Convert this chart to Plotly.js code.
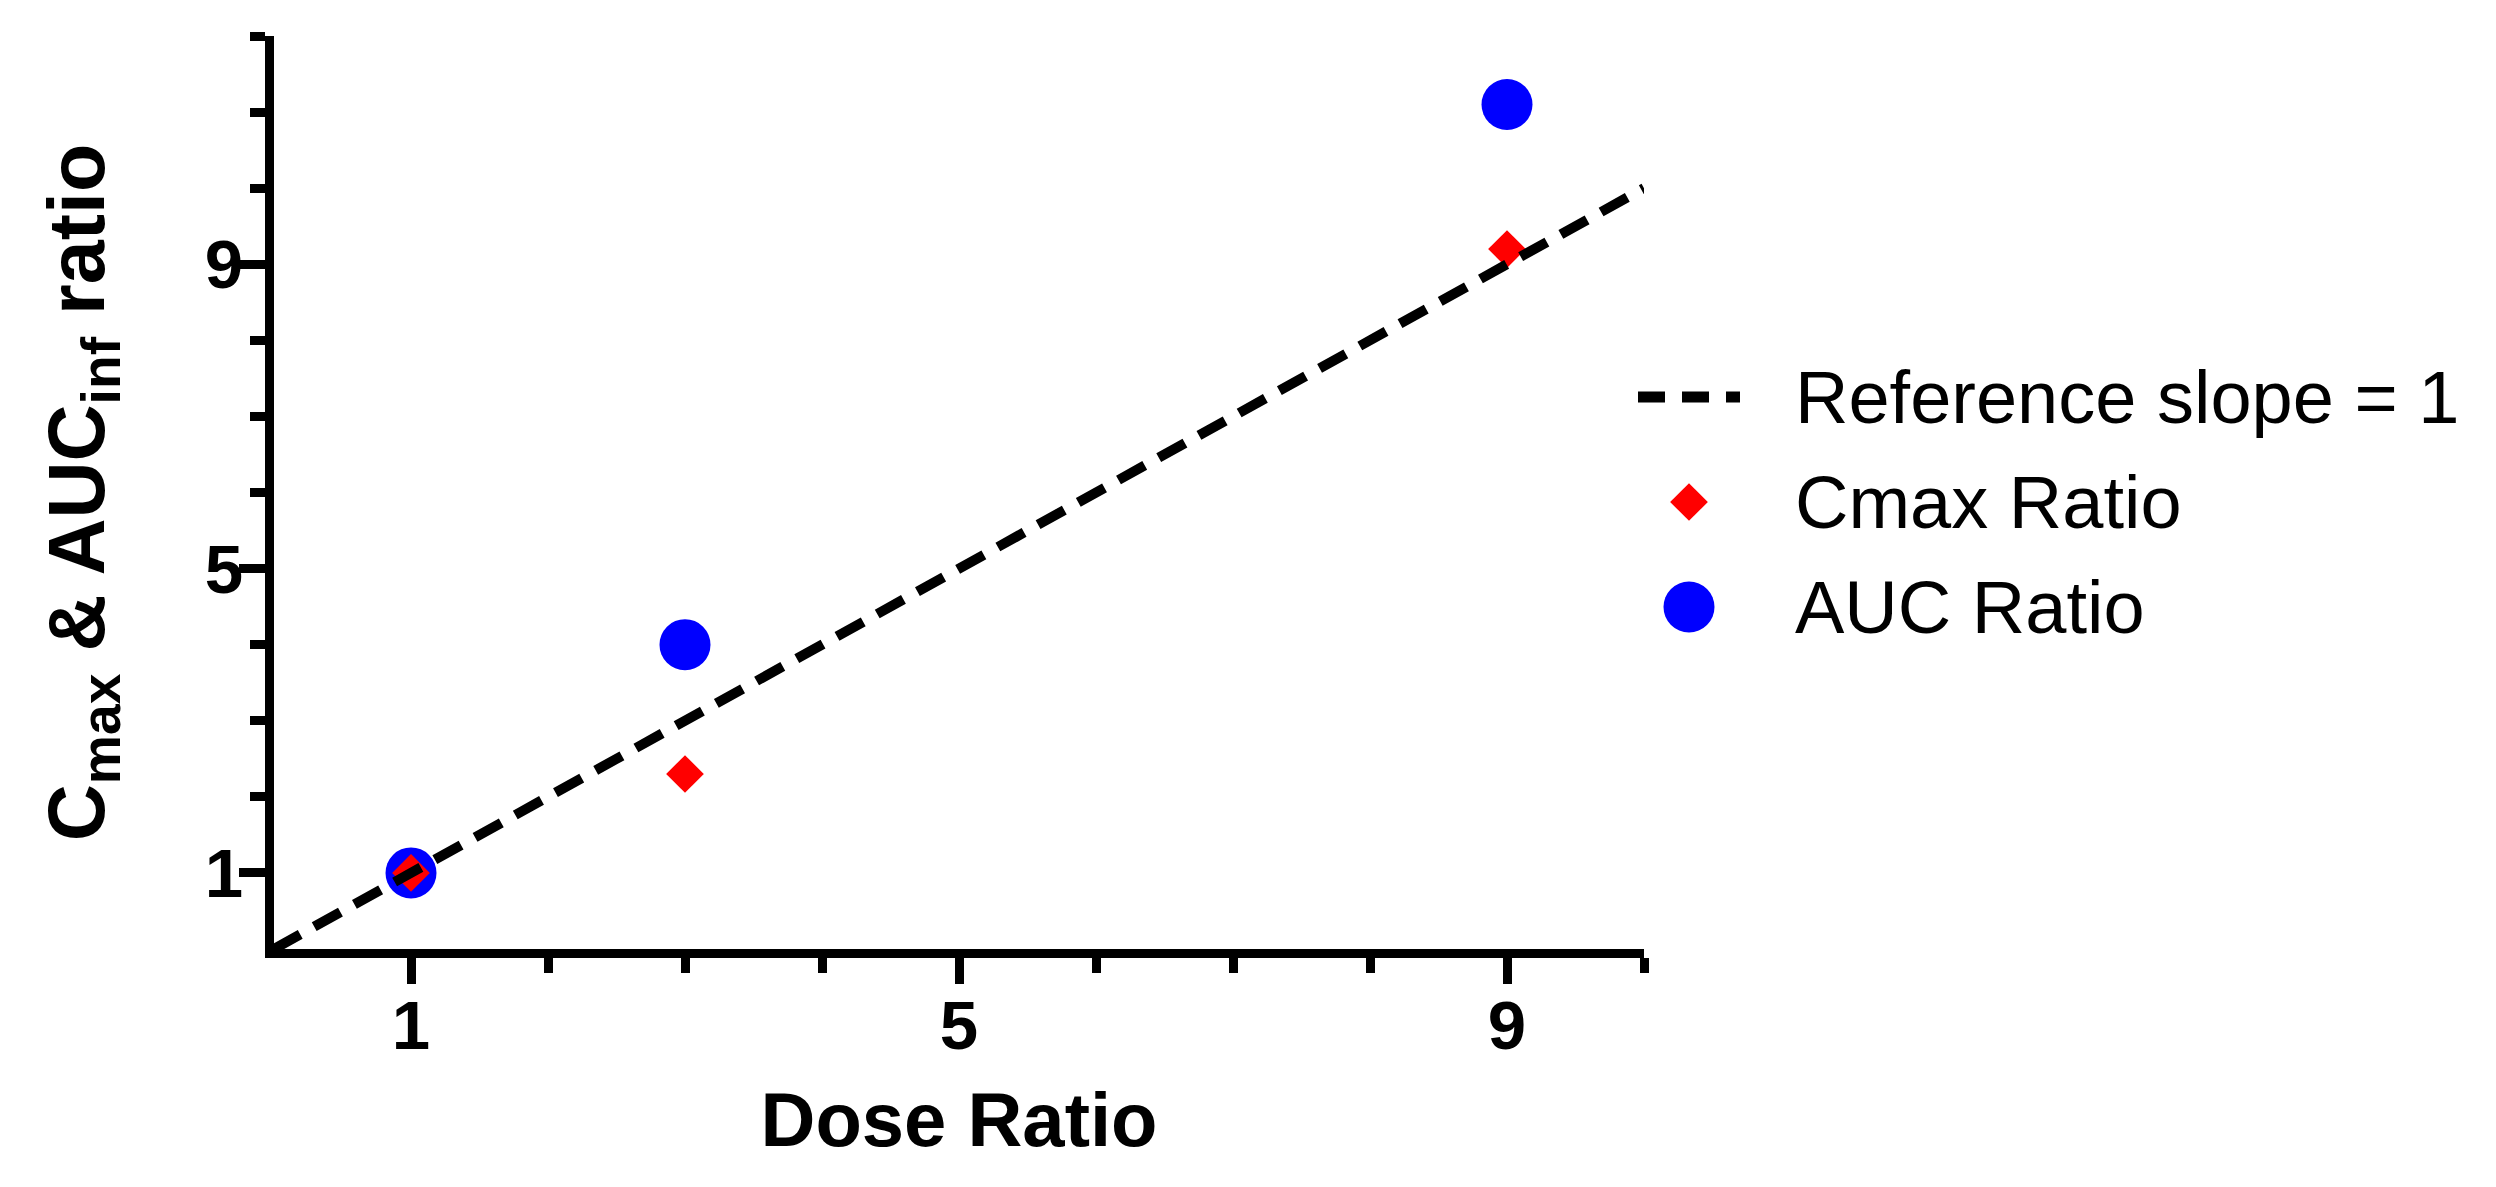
<!DOCTYPE html>
<html>
<head>
<meta charset="utf-8">
<script src="https://cdn.plot.ly/plotly-3.0.1.min.js"></script>
<style>
  html, body { margin: 0; padding: 0; background: #ffffff; }
  #chart { width: 2496px; height: 1187px; }
</style>
</head>
<body>
<div id="chart"></div>
<script>
// ---- data ----
const doseRatio = [1, 3, 9];
const cmaxRatio = [1, 2.3, 9.2];
const aucRatio = [1, 4.0, 11.1];
const refX = [0, 10];
const refY = [0, 10];
const seriesNames = ['Reference slope = 1', 'Cmax Ratio', 'AUC Ratio'];
const xTickVals = [1, 5, 9];
const yTickVals = [1, 5, 9];
const xMinorVals = [2, 3, 4, 6, 7, 8, 10];
const yMinorVals = [2, 3, 4, 6, 7, 8, 10, 11, 12];

// ---- layout constants ----
const W = 2496, H = 1187;
const FONT = '"Liberation Sans", Arial, Helvetica, sans-serif';
const plotL = 274, plotR = 1644, plotT = 36, plotB = 949;
const AXW = 9;
const legendX2 = [0.655, 1];
const legendSampleX = 1638, legendSampleW = 102, legendTextX = 1793;
const legendRowY0 = 397, legendRowGap = 105;

const refStyle = {color: '#000000', width: 10, dash: '30px,16px'};
const cmaxMarker = {symbol: 'diamond', size: 29, color: '#ff0000'};
const aucMarker = {symbol: 'circle', size: 51, color: '#0000ff'};

const traces = [
  {x: doseRatio, y: aucRatio, name: seriesNames[2], type: 'scatter', mode: 'markers',
   marker: aucMarker, showlegend: false, hoverinfo: 'skip', cliponaxis: false},
  {x: doseRatio, y: cmaxRatio, name: seriesNames[1], type: 'scatter', mode: 'markers',
   marker: cmaxMarker, showlegend: false, hoverinfo: 'skip', cliponaxis: false},
  {x: refX, y: refY, name: seriesNames[0], type: 'scatter', mode: 'lines',
   line: refStyle, showlegend: false, hoverinfo: 'skip'}
];

// custom legend (drawn on a hidden pixel-scaled axis pair)
const rowY = i => legendRowY0 + i * legendRowGap;
const sampleMid = legendSampleX + legendSampleW / 2;
traces.push({x: [legendSampleX, legendSampleX + legendSampleW], y: [rowY(0), rowY(0)],
  xaxis: 'x2', yaxis: 'y2', type: 'scatter', mode: 'lines',
  line: {color: '#000000', width: 11, dash: '27px,17px'}, showlegend: false, hoverinfo: 'skip'});
traces.push({x: [sampleMid], y: [rowY(1)], xaxis: 'x2', yaxis: 'y2', type: 'scatter', mode: 'markers',
  marker: cmaxMarker, showlegend: false, hoverinfo: 'skip', cliponaxis: false});
traces.push({x: [sampleMid], y: [rowY(2)], xaxis: 'x2', yaxis: 'y2', type: 'scatter', mode: 'markers',
  marker: aucMarker, showlegend: false, hoverinfo: 'skip', cliponaxis: false});

const annotations = seriesNames.map((t, i) => ({
  text: t, xref: 'x2', yref: 'y2', x: legendTextX, y: rowY(i),
  xanchor: 'left', yanchor: 'middle', showarrow: false,
  font: {family: FONT, size: 74, color: '#000000'}
}));

const tickFont = {family: FONT, size: 69, color: '#000000', weight: 'bold'};
const xTitleFont = {family: FONT, size: 76, color: '#000000', weight: 'bold'};
const yTitleFont = {family: FONT, size: 79, color: '#000000', weight: 'bold'};

const axisCommon = {
  showline: true, linewidth: AXW, linecolor: '#000000', mirror: false,
  showgrid: false, zeroline: false,
  ticks: 'outside', ticklen: 26, tickwidth: AXW, tickcolor: '#000000',
  tickmode: 'array', tickfont: tickFont, fixedrange: true,
  ticklabelstandoff: -18
};

const layout = {
  width: W, height: H,
  margin: {l: 0, r: 0, t: 0, b: 0, pad: 0},
  paper_bgcolor: '#ffffff', plot_bgcolor: 'rgba(0,0,0,0)',
  showlegend: false,
  xaxis: Object.assign({}, axisCommon, {
    domain: [plotL / W, plotR / W], range: [0, 10],
    tickvals: xTickVals, ticktext: xTickVals.map(String),
    minor: {tickmode: 'array', tickvals: xMinorVals, ticks: 'outside', ticklen: 15, tickwidth: AXW, tickcolor: '#000000', showgrid: false},
    title: {text: 'Dose Ratio', font: xTitleFont, standoff: 34}
  }),
  yaxis: Object.assign({}, axisCommon, {
    domain: [1 - plotB / H, 1 - plotT / H], range: [0, 12],
    tickvals: yTickVals, ticktext: yTickVals.map(String),
    minor: {tickmode: 'array', tickvals: yMinorVals, ticks: 'outside', ticklen: 15, tickwidth: AXW, tickcolor: '#000000', showgrid: false},
    title: {text: 'C<sub>max</sub> &amp; AUC<sub>inf</sub> ratio', font: yTitleFont, standoff: 78}
  }),
  xaxis2: {domain: legendX2, range: [legendX2[0] * W, legendX2[1] * W], visible: false, fixedrange: true, anchor: 'y2'},
  yaxis2: {domain: [0, 1], range: [H, 0], visible: false, fixedrange: true, anchor: 'x2'},
  annotations: annotations
};

Plotly.newPlot('chart', traces, layout, {staticPlot: true, displayModeBar: false});
</script>
</body>
</html>
